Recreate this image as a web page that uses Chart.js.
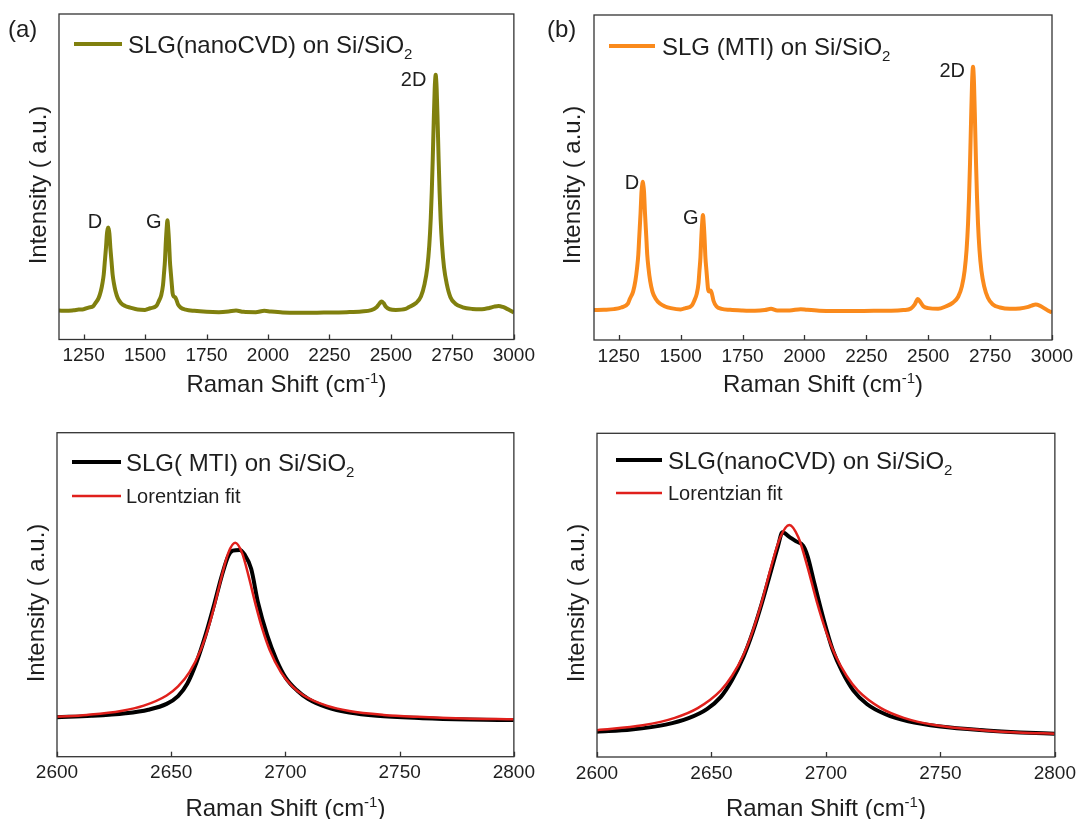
<!DOCTYPE html>
<html>
<head>
<meta charset="utf-8">
<script src="https://cdn.jsdelivr.net/npm/chart.js@4.4.1/dist/chart.umd.min.js"></script>
<style>
  body { margin: 0; background: #fff; width: 1081px; height: 819px; position: relative; overflow: hidden; }
  canvas { position: absolute; }
</style>
</head>
<body>
<canvas id="chartA" width="540" height="410" style="left:0;top:0"></canvas>
<canvas id="chartB" width="541" height="410" style="left:540px;top:0"></canvas>
<canvas id="chartC" width="540" height="409" style="left:0;top:410px"></canvas>
<canvas id="chartD" width="541" height="409" style="left:540px;top:410px"></canvas>
<script>
// ---- data (intensity in arbitrary units, 0..100 of the plot height) ----
const topTicks = [1250, 1500, 1750, 2000, 2250, 2500, 2750, 3000];
const zoomTicks = [2600, 2650, 2700, 2750, 2800];

const shiftA = [1150,1180,1210,1230,1250,1270,1290,1298,1311,1320,1327,1332,1336,1341,1345,1348,1350,1352,1355,1359,1364,1368,1373,1380,1389,1402,1419,1440,1470,
  1500,1521,1546,1556,1566,1573,1577,1581,1584,1588,1591,1594,1598,1601,1605,1609,1612,1617,1622,1627,1634,1645,1665,1700,
  1750,1800,1840,1870,1900,1950,1985,2010,2060,2120,2180,2250,2320,2380,2420,2440,2452,2462,2470,2480,2495,2520,2560,
  2572,2602,2622,2637,2648,2656,2662,2666,2670,2674,2678,2680,2682,2684,2686,2690,2694,2698,2702,2708,2716,2727,2742,2762,2792,
  2830,2870,2900,2920,2938,2955,2970,2985,3000];
const intensityA = [8.9,8.8,9.0,9.2,9.3,9.8,10.3,11.2,12.7,14.8,17.4,20.0,23.6,28.1,32.5,34.0,34.4,34.0,32.5,28.1,23.6,20.0,17.4,14.8,12.7,11.2,10.3,9.8,9.2,
  9.1,9.6,10.3,11.8,13.7,16.7,20.3,24.2,29.3,34.3,36.6,34.3,29.3,24.2,20.3,16.7,14.2,13.2,13.0,12.3,10.8,9.8,9.2,8.8,
  8.5,8.4,8.6,8.9,8.5,8.4,8.8,8.6,8.3,8.2,8.2,8.3,8.4,8.6,9.0,9.8,10.9,11.7,11.2,10.0,9.3,9.1,9.4,
  9.9,11.2,13.2,17.1,22.1,28.9,37.2,45.2,55.3,66.8,77.0,79.9,81.3,79.9,77.0,66.8,55.3,45.2,37.2,28.9,22.1,17.1,13.0,11.0,9.9,
  9.4,9.3,9.7,10.1,10.3,10.0,9.5,8.9,8.3];

const shiftB = [1150,1190,1230,1260,1287,1295,1308,1317,1324,1329,1333,1338,1342,1345,1347,1349,1352,1356,1361,1365,1370,1377,1386,1399,1416,1437,1460,
  1500,1520,1545,1555,1565,1572,1576,1580,1583,1587,1590,1593,1597,1600,1604,1608,1611,1616,1621,1626,1633,1645,1665,1700,
  1750,1800,1840,1865,1890,1940,1985,2010,2060,2120,2200,2280,2350,2400,2430,2445,2458,2468,2480,2500,2540,
  2570,2600,2621,2636,2647,2655,2661,2665,2669,2673,2677,2679,2681,2683,2685,2689,2693,2697,2701,2707,2715,2726,2741,2760,2790,
  2830,2870,2900,2918,2934,2950,2968,2985,3000];
const intensityB = [9.2,9.3,9.5,10.0,11.2,12.7,14.9,18.1,22.2,26.3,32.0,39.0,45.7,47.8,48.7,47.8,45.7,39.0,32.0,26.3,22.2,18.1,14.9,12.7,11.2,10.3,9.8,
  9.4,9.8,10.6,12.1,14.2,17.4,21.4,25.4,30.7,36.1,38.5,36.1,30.7,25.4,21.6,17.8,15.5,14.9,15.2,14.3,12.0,10.3,9.6,9.3,
  9.1,9.0,9.2,9.6,9.1,9.1,9.5,9.3,9.0,8.9,8.9,9.0,9.0,9.2,9.7,10.9,12.6,11.7,10.4,9.8,9.6,
  10.3,11.5,13.3,16.5,21.3,27.8,36.0,44.1,54.7,67.3,78.9,82.5,84.1,82.5,78.9,67.3,54.7,44.1,36.0,27.8,21.3,16.5,13.0,11.0,10.0,
  9.6,9.7,10.1,10.6,10.9,10.6,9.8,9.0,8.5];

const shiftC = [2600,2615,2630,2640,2648,2653,2657,2661,2665,2669,2672,2675,2677,2680,2682,2685,2688,2692,2696,2700,2705,2710,2718,2728,2740,2760,2780,2800];
const intensityC = [12.2,12.6,13.4,14.5,16.3,18.7,22.5,29.0,37.5,47.5,55.5,62.0,63.6,63.8,62.5,58.0,47.5,37.5,30.0,24.5,20.5,17.8,15.3,13.6,12.6,11.9,11.5,11.3];
const fitShiftC = [2600,2613,2628,2638,2648,2653,2658,2663,2666,2669,2672,2675,2678,2681,2684,2687,2690,2693,2698,2703,2708,2718,2728,2743,2758,2778,2800];
const fitC = [12.3,12.9,14.1,15.75,18.9,21.7,26.1,33.1,39.2,46.8,55.4,62.9,66.0,62.9,55.4,46.8,39.2,33.1,26.1,21.7,18.9,15.75,14.1,12.9,12.3,11.8,11.55];

const shiftD = [2600,2615,2630,2640,2648,2654,2659,2664,2668,2672,2676,2679,2681,2684,2687,2690,2692,2695,2699,2703,2707,2712,2718,2726,2736,2750,2770,2785,2800];
const intensityD = [7.8,8.5,10.0,12.0,14.8,18.5,23.8,31.0,38.5,47.5,57.5,65.0,69.4,68.0,66.6,65.3,62.0,53.5,42.5,33.0,26.5,20.5,16.3,13.2,11.0,9.4,8.2,7.6,7.2];
const fitShiftD = [2600,2620,2634,2644,2654,2659,2664,2668,2672,2676,2680,2684,2688,2692,2696,2700,2704,2709,2714,2724,2734,2748,2768,2784,2800];
const fitD = [8.3,9.8,12.1,15.1,20.5,25.1,31.6,38.9,48.0,58.6,67.8,71.7,67.8,58.6,48.0,38.9,31.6,25.1,20.5,15.1,12.1,9.8,8.3,7.6,7.2];

const peakNames = ['D', 'G', '2D'];
const peakLabelShiftA = [1296, 1535, 2592];
const peakLabelLevelA = [36.1, 35.8, 79.7];
const peakLabelShiftB = [1303, 1541, 2597];
const peakLabelLevelB = [48.2, 37.5, 82.5];

// ---- drawing ----
const FONT = '"Liberation Sans", Arial, Helvetica, sans-serif';
Chart.defaults.font.family = FONT;
const INK = '#1e1e1e';

// text made of segments, e.g. subscript "2"
function drawSegments(ctx, segs, x, y, size) {
  segs.forEach(s => {
    const fs = s.sub || s.sup ? Math.round(size * 0.62) : size;
    ctx.font = fs + 'px ' + FONT;
    const dy = s.sub ? size * 0.26 : s.sup ? -size * 0.38 : 0;
    ctx.fillText(s.t, x, y + dy);
    x += ctx.measureText(s.t).width;
  });
}
function segWidth(ctx, segs, size) {
  let w = 0;
  segs.forEach(s => {
    ctx.font = (s.sub || s.sup ? Math.round(size * 0.62) : size) + 'px ' + FONT;
    w += ctx.measureText(s.t).width;
  });
  return w;
}

const decor = {
  id: 'decor',
  afterDraw(chart, args, o) {
    const ctx = chart.ctx, a = chart.chartArea;
    const xs = chart.scales.x, ys = chart.scales.y;
    ctx.save();
    ctx.strokeStyle = '#333';
    ctx.lineWidth = 1.3;
    ctx.strokeRect(a.left, a.top, a.right - a.left, a.bottom - a.top);
    xs.ticks.forEach(t => {
      const px = Math.round(xs.getPixelForValue(t.value)) + 0.5;
      ctx.beginPath();
      ctx.moveTo(px, a.bottom);
      ctx.lineTo(px, a.bottom - 5);
      ctx.stroke();
    });
    ctx.fillStyle = INK;
    ctx.textBaseline = 'alphabetic';
    ctx.textAlign = 'left';

    // y title
    ctx.save();
    ctx.translate(o.yTitle[0], o.yTitle[1]);
    ctx.rotate(-Math.PI / 2);
    ctx.font = '24px ' + FONT;
    ctx.textAlign = 'center';
    ctx.textBaseline = 'middle';
    ctx.fillText('Intensity ( a.u.)', 0, 0);
    ctx.restore();

    // x title
    const xt = [{ t: 'Raman Shift (cm' }, { t: '-1', sup: true }, { t: ')' }];
    const w = segWidth(ctx, xt, 24);
    drawSegments(ctx, xt, (a.left + a.right) / 2 - w / 2, o.xTitleY, 24);

    // legend
    o.legend.forEach(l => {
      ctx.strokeStyle = l.color;
      ctx.lineWidth = l.lw;
      ctx.beginPath();
      ctx.moveTo(l.x1, l.y);
      ctx.lineTo(l.x2, l.y);
      ctx.stroke();
      ctx.fillStyle = INK;
      drawSegments(ctx, l.text, l.tx, l.y + l.size * 0.36, l.size);
    });

    // peak labels
    if (o.peaks) {
      ctx.font = '20px ' + FONT;
      ctx.textAlign = 'center';
      ctx.textBaseline = 'middle';
      o.peaks.names.forEach((n, i) => {
        ctx.fillText(n, xs.getPixelForValue(o.peaks.x[i]), ys.getPixelForValue(o.peaks.y[i]));
      });
    }

    // panel letter
    if (o.panel) {
      ctx.font = '24px ' + FONT;
      ctx.textAlign = 'left';
      ctx.textBaseline = 'alphabetic';
      ctx.fillText(o.panel[0], o.panel[1], o.panel[2]);
    }
    ctx.restore();
  }
};

function makeChart(id, p) {
  return new Chart(document.getElementById(id), {
    type: 'line',
    data: {
      datasets: p.series.map(s => ({
        data: s.x.map((v, i) => ({ x: v, y: s.y[i] })),
        borderColor: s.color,
        borderWidth: s.width,
        pointRadius: 0,
        fill: false,
        cubicInterpolationMode: 'monotone',
        order: s.order || 0
      }))
    },
    options: {
      responsive: false,
      animation: false,
      devicePixelRatio: 1,
      layout: { autoPadding: false, padding: p.pad },
      plugins: { legend: { display: false }, tooltip: { enabled: false }, decor: p.decor },
      scales: {
        x: {
          type: 'linear', min: p.xMin, max: p.xMax,
          afterBuildTicks: s => { s.ticks = p.ticks.map(v => ({ value: v })); },
          afterFit: s => { s.height = 40; },
          grid: { display: false, drawTicks: false },
          border: { display: false },
          ticks: { padding: 5, color: INK, font: { size: 19 }, maxRotation: 0, autoSkip: false, callback: v => String(v) }
        },
        y: { display: false, min: 0, max: 100 }
      }
    },
    plugins: [decor]
  });
}

const sio2 = name => [{ t: name + ' on Si/SiO' }, { t: '2', sub: true }];

makeChart('chartA', {
  xMin: 1150, xMax: 3000, ticks: topTicks,
  pad: { left: 59, right: 20.5, top: 14, bottom: 30.5 },
  series: [{ x: shiftA, y: intensityA, color: '#80800e', width: 4 }],
  decor: {
    yTitle: [39, 185], xTitleY: 392, panel: ['(a)', 8, 37],
    peaks: { names: peakNames, x: peakLabelShiftA, y: peakLabelLevelA },
    legend: [{ text: sio2('SLG(nanoCVD)'), color: '#80800e', lw: 4, x1: 74, x2: 122, y: 44, tx: 128, size: 24 }]
  }
});

makeChart('chartB', {
  xMin: 1150, xMax: 3000, ticks: topTicks,
  pad: { left: 54, right: 29, top: 15, bottom: 30 },
  series: [{ x: shiftB, y: intensityB, color: '#fa8a1c', width: 4 }],
  decor: {
    yTitle: [33, 185], xTitleY: 392, panel: ['(b)', 7, 37],
    peaks: { names: peakNames, x: peakLabelShiftB, y: peakLabelLevelB },
    legend: [{ text: sio2('SLG (MTI)'), color: '#fa8a1c', lw: 4, x1: 69, x2: 115, y: 46, tx: 122, size: 24 }]
  }
});

makeChart('chartC', {
  xMin: 2600, xMax: 2800, ticks: zoomTicks,
  pad: { left: 57, right: 22, top: 22.7, bottom: 22.3 },
  series: [
    { x: shiftC, y: intensityC, color: '#000000', width: 4, order: 1 },
    { x: fitShiftC, y: fitC, color: '#e0201c', width: 2.5, order: 0 }
  ],
  decor: {
    yTitle: [37, 193], xTitleY: 406,
    legend: [
      { text: sio2('SLG( MTI)'), color: '#000', lw: 4, x1: 72, x2: 121, y: 52, tx: 126, size: 24 },
      { text: [{ t: 'Lorentzian fit' }], color: '#e0201c', lw: 2.5, x1: 72, x2: 121, y: 86, tx: 126, size: 20 }
    ]
  }
});

makeChart('chartD', {
  xMin: 2600, xMax: 2800, ticks: zoomTicks,
  pad: { left: 57, right: 24, top: 23.3, bottom: 22 },
  series: [
    { x: shiftD, y: intensityD, color: '#000000', width: 4, order: 1 },
    { x: fitShiftD, y: fitD, color: '#e0201c', width: 2.5, order: 0 }
  ],
  decor: {
    yTitle: [37, 193], xTitleY: 406,
    legend: [
      { text: sio2('SLG(nanoCVD)'), color: '#000', lw: 4, x1: 76, x2: 122, y: 50, tx: 128, size: 24 },
      { text: [{ t: 'Lorentzian fit' }], color: '#e0201c', lw: 2.5, x1: 76, x2: 122, y: 83, tx: 128, size: 20 }
    ]
  }
});
</script>
</body>
</html>
